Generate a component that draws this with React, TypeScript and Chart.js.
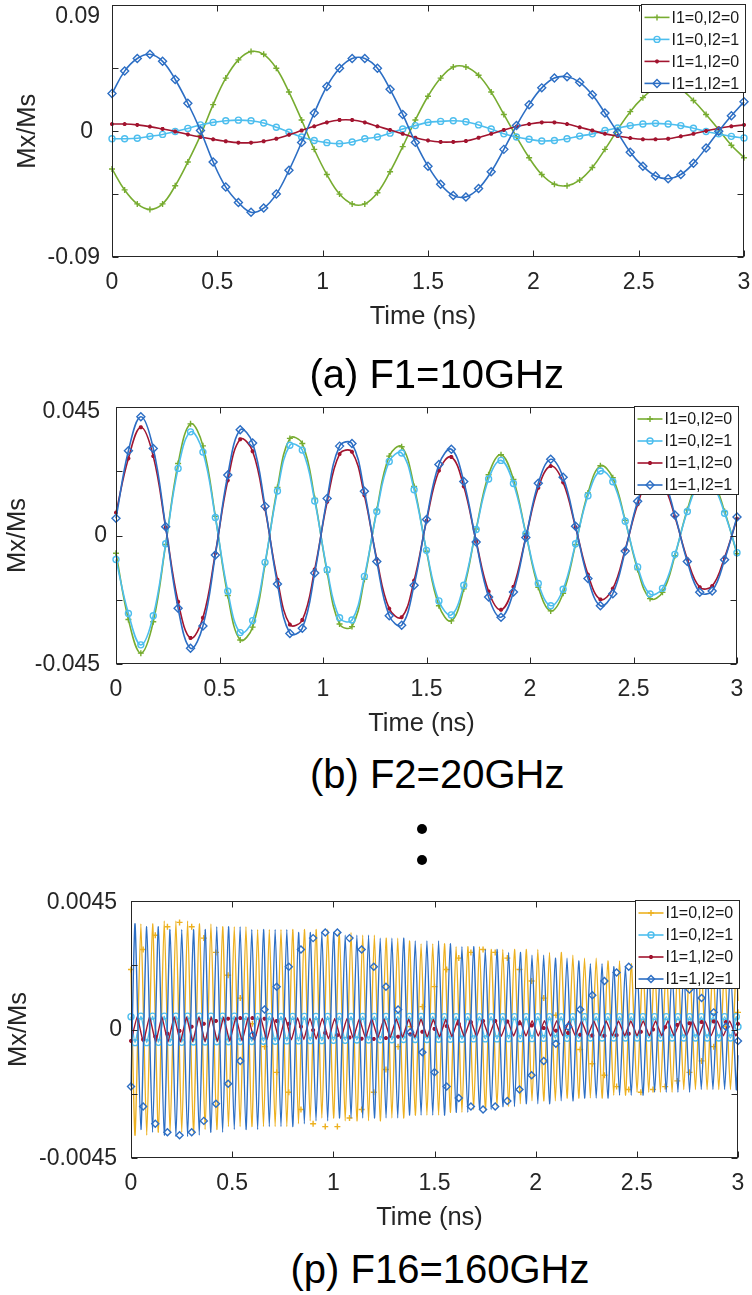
import React, { useEffect, useRef } from 'react';
import { Chart, registerables } from 'chart.js';

Chart.register(...registerables);

// ---------------- shared texts / ticks ----------------
const X_TICKS = [0, 0.5, 1, 1.5, 2, 2.5, 3];
const X_TICK_LABELS = ['0', '0.5', '1', '1.5', '2', '2.5', '3'];
const X_TITLE = 'Time (ns)';
const Y_TITLE = 'Mx/Ms';
const SERIES_NAMES = ['I1=0,I2=0', 'I1=0,I2=1', 'I1=1,I2=0', 'I1=1,I2=1'];
const CAPTIONS = ['(a) F1=10GHz', '(b) F2=20GHz', '(p) F16=160GHz'];

// sampling grid (ns) of panels (a) and (b)
const AB_STEP = 0.06;
const AB_COUNT = 51;

// ---------------- panel (a) F1 = 10 GHz ----------------
const A_Y_TICKS = [-0.09, -0.045, 0, 0.045, 0.09];
const A_Y_LABELS = ['-0.09', '', '0', '', '0.09'];
const A_I00 = [-0.027, -0.042, -0.052, -0.056, -0.052, -0.039, -0.022, -0.003, 0.019, 0.038,
  0.051, 0.057, 0.055, 0.045, 0.028, 0.008, -0.013, -0.031, -0.045, -0.052,
  -0.052, -0.044, -0.029, -0.011, 0.008, 0.025, 0.038, 0.046, 0.046, 0.040,
  0.028, 0.012, -0.004, -0.019, -0.031, -0.038, -0.039, -0.035, -0.026, -0.013,
  0.001, 0.014, 0.024, 0.031, 0.033, 0.030, 0.022, 0.012, 0.001, -0.010, -0.019];
const A_I01 = [-0.0054, -0.0054, -0.0050, -0.0037, -0.0023, -0.0002, 0.0020, 0.0045, 0.0063, 0.0075,
  0.0079, 0.0075, 0.0059, 0.0028, -0.0007, -0.0042, -0.0066, -0.0082, -0.0089, -0.0077,
  -0.0054, -0.0042, -0.0014, 0.0016, 0.0040, 0.0063, 0.0070, 0.0075, 0.0068, 0.0045,
  0.0016, -0.0019, -0.0042, -0.0058, -0.0070, -0.0066, -0.0054, -0.0035, -0.0019, 0.0005,
  0.0023, 0.0040, 0.0051, 0.0056, 0.0051, 0.0040, 0.0021, -0.0002, -0.0019, -0.0037, -0.0049];
const A_I10 = [0.0051, 0.0051, 0.0045, 0.0033, 0.0016, -0.0002, -0.0023, -0.0042, -0.0058, -0.0072,
  -0.0082, -0.0082, -0.0072, -0.0054, -0.0026, 0.0005, 0.0035, 0.0063, 0.0080, 0.0080,
  0.0063, 0.0035, 0.0009, -0.0019, -0.0047, -0.0066, -0.0077, -0.0077, -0.0070, -0.0047,
  -0.0019, 0.0009, 0.0033, 0.0051, 0.0063, 0.0063, 0.0051, 0.0028, 0.0005, -0.0019,
  -0.0035, -0.0049, -0.0058, -0.0058, -0.0054, -0.0037, -0.0019, 0.0002, 0.0021, 0.0035, 0.0045];
const A_I11 = [0.027, 0.043, 0.052, 0.055, 0.050, 0.037, 0.020, 0.0005, -0.022, -0.040,
  -0.051, -0.058, -0.055, -0.045, -0.028, -0.008, 0.013, 0.032, 0.045, 0.052,
  0.052, 0.045, 0.030, 0.012, -0.008, -0.025, -0.038, -0.046, -0.047, -0.041,
  -0.029, -0.013, 0.004, 0.019, 0.031, 0.038, 0.039, 0.035, 0.026, 0.013,
  -0.001, -0.015, -0.025, -0.032, -0.034, -0.031, -0.023, -0.012, 0.000, 0.011, 0.021];

// ---------------- panel (b) F2 = 20 GHz ----------------
const B_Y_TICKS = [-0.045, -0.0225, 0, 0.0225, 0.045];
const B_Y_LABELS = ['-0.045', '', '0', '', '0.045'];
const B_I00 = [-0.0062, -0.0294, -0.0412, -0.0302, -0.0031, 0.0252, 0.0391, 0.0314, 0.0067, -0.0210,
  -0.0366, -0.0321, -0.0101, 0.0168, 0.0340, 0.0322, 0.0130, -0.0129, -0.0310, -0.0319,
  -0.0153, 0.0090, 0.0278, 0.0311, 0.0172, -0.0055, -0.0246, -0.0299, -0.0187, 0.0023,
  0.0213, 0.0283, 0.0196, 0.0007, -0.0181, -0.0264, -0.0202, -0.0032, 0.0149, 0.0244,
  0.0202, 0.0053, -0.0119, -0.0221, -0.0199, -0.0071, 0.0090, 0.0197, 0.0192, 0.0084, -0.0064];
const B_I01 = [-0.0084, -0.0273, -0.0383, -0.0281, -0.0029, 0.0235, 0.0363, 0.0292, 0.0063, -0.0195,
  -0.0340, -0.0298, -0.0094, 0.0156, 0.0316, 0.0299, 0.0121, -0.0120, -0.0288, -0.0296,
  -0.0143, 0.0084, 0.0259, 0.0289, 0.0160, -0.0052, -0.0229, -0.0278, -0.0174, 0.0021,
  0.0198, 0.0263, 0.0182, 0.0006, -0.0168, -0.0246, -0.0188, -0.0029, 0.0139, 0.0226,
  0.0188, 0.0050, -0.0110, -0.0205, -0.0185, -0.0066, 0.0084, 0.0183, 0.0178, 0.0078, -0.0060];
const B_I10 = [0.0080, 0.0270, 0.0379, 0.0278, 0.0028, -0.0232, -0.0359, -0.0288, -0.0062, 0.0193,
  0.0337, 0.0295, 0.0093, -0.0155, -0.0312, -0.0296, -0.0119, 0.0118, 0.0285, 0.0293,
  0.0141, -0.0083, -0.0256, -0.0286, -0.0158, 0.0051, 0.0227, 0.0275, 0.0172, -0.0021,
  -0.0196, -0.0260, -0.0180, -0.0006, 0.0167, 0.0243, 0.0186, 0.0029, -0.0137, -0.0224,
  -0.0186, -0.0049, 0.0109, 0.0203, 0.0183, 0.0066, -0.0083, -0.0181, -0.0177, -0.0077, 0.0059];
const B_I11 = [0.0060, 0.0297, 0.0416, 0.0305, 0.0031, -0.0255, -0.0395, -0.0317, -0.0068, 0.0212,
  0.0370, 0.0324, 0.0102, -0.0170, -0.0343, -0.0325, -0.0131, 0.0130, 0.0313, 0.0322,
  0.0155, -0.0091, -0.0281, -0.0314, -0.0174, 0.0056, 0.0249, 0.0302, 0.0189, -0.0023,
  -0.0215, -0.0286, -0.0198, -0.0007, 0.0183, 0.0267, 0.0204, 0.0032, -0.0151, -0.0246,
  -0.0204, -0.0054, 0.0120, 0.0223, 0.0201, 0.0072, -0.0091, -0.0199, -0.0194, -0.0085, 0.0065];

// ---------------- panel (p) F16 = 160 GHz ----------------
const P_Y_TICKS = [-0.0045, -0.00225, 0, 0.00225, 0.0045];
const P_Y_LABELS = ['-0.0045', '', '0', '', '0.0045'];
// turning points of the fast oscillation: first at 0 ns, then every half period, last at 3 ns
const P_FIRST_TURN = 0.02;
const P_HALF_PERIOD = 0.02885;
const P_TURNS = 104;
const P_RED_HALF_PERIOD = 0.0305;
const P_RED_TURNS = 99;

const P_I00_LINE = [0.0021,
  -0.0037, 0.0037, -0.0037, 0.0037, -0.0036, 0.0038, -0.0036, 0.0038, -0.0036, 0.0038,
  -0.0036, 0.0037, -0.0035, 0.0037, -0.0035, 0.0036, -0.0034, 0.0036, -0.0034, 0.0036,
  -0.0034, 0.0035, -0.0034, 0.0035, -0.0034, 0.0035, -0.0034, 0.0035, -0.0033, 0.0035,
  -0.0032, 0.0035, -0.0031, 0.0035, -0.0031, 0.0034, -0.0032, 0.0034, -0.0032, 0.0033,
  -0.0032, 0.0033, -0.0032, 0.0032, -0.0031, 0.0032, -0.0031, 0.0031, -0.0030, 0.0030,
  -0.0030, 0.0030, -0.0030, 0.0030, -0.0029, 0.0029, -0.0029, 0.0029, -0.0028, 0.0029,
  -0.0028, 0.0028, -0.0027, 0.0028, -0.0027, 0.0028, -0.0026, 0.0028, -0.0025, 0.0028,
  -0.0025, 0.0027, -0.0025, 0.0027, -0.0024, 0.0026, -0.0024, 0.0025, -0.0024, 0.0025,
  -0.0024, 0.0024, -0.0023, 0.0024, -0.0023, 0.0023, -0.0022, 0.0023, -0.0022, 0.0023,
  -0.0022, 0.0023, -0.0022, 0.0023, -0.0021, 0.0023, -0.0021, 0.0023, -0.0021, 0.0023,
  -0.0021, 0.0023, -0.0021, 0.0023,
  0.0010];
const P_I01_LINE = [0.00045,
  -0.00046, 0.00047, -0.00046, 0.00047, -0.00045, 0.00047, -0.00045, 0.00047, -0.00045, 0.00047,
  -0.00044, 0.00047, -0.00044, 0.00047, -0.00043, 0.00047, -0.00043, 0.00047, -0.00042, 0.00046,
  -0.00042, 0.00046, -0.00041, 0.00046, -0.00041, 0.00046, -0.00040, 0.00046, -0.00040, 0.00046,
  -0.00039, 0.00046, -0.00039, 0.00046, -0.00038, 0.00046, -0.00038, 0.00046, -0.00037, 0.00046,
  -0.00037, 0.00046, -0.00036, 0.00046, -0.00036, 0.00046, -0.00035, 0.00046, -0.00035, 0.00046,
  -0.00035, 0.00046, -0.00034, 0.00045, -0.00034, 0.00045, -0.00034, 0.00045, -0.00033, 0.00045,
  -0.00033, 0.00045, -0.00033, 0.00045, -0.00032, 0.00045, -0.00032, 0.00045, -0.00032, 0.00045,
  -0.00031, 0.00045, -0.00031, 0.00045, -0.00031, 0.00045, -0.00031, 0.00045, -0.00030, 0.00045,
  -0.00030, 0.00045, -0.00030, 0.00045, -0.00030, 0.00045, -0.00030, 0.00045, -0.00030, 0.00045,
  -0.00030, 0.00045, -0.00030, 0.00045, -0.00030, 0.00045, -0.00030, 0.00045, -0.00030, 0.00045,
  -0.00030, 0.00045, -0.00030, 0.00045,
  0.0001];
const P_I10_LINE = [
  -0.00042, 0.00045, -0.00045, 0.00045, -0.00045, 0.00045, -0.00044, 0.00045, -0.00044, 0.00044,
  -0.00043, 0.00044, -0.00043, 0.00044, -0.00042, 0.00043, -0.00041, 0.00043, -0.00040, 0.00043,
  -0.00039, 0.00042, -0.00038, 0.00042, -0.00037, 0.00041, -0.00036, 0.00041, -0.00035, 0.00040,
  -0.00034, 0.00040, -0.00033, 0.00039, -0.00032, 0.00039, -0.00031, 0.00038, -0.00030, 0.00038,
  -0.00029, 0.00037, -0.00028, 0.00037, -0.00027, 0.00036, -0.00027, 0.00036, -0.00026, 0.00035,
  -0.00026, 0.00035, -0.00025, 0.00034, -0.00025, 0.00034, -0.00024, 0.00033, -0.00024, 0.00033,
  -0.00024, 0.00032, -0.00023, 0.00032, -0.00023, 0.00031, -0.00023, 0.00031, -0.00023, 0.00031,
  -0.00022, 0.00030, -0.00022, 0.00030, -0.00022, 0.00030, -0.00022, 0.00030, -0.00022, 0.00030,
  -0.00022, 0.00030, -0.00022, 0.00030, -0.00022, 0.00030, -0.00022, 0.00030, -0.00022, 0.00030,
  -0.00022, 0.00030, -0.00022, 0.00030, -0.00022, 0.00030, -0.00022, 0.00030, -0.00022,
  -0.0001];
const P_I11_LINE = [-0.0020,
  0.0037, -0.0035, 0.0036, -0.0036, 0.0036, -0.0037, 0.0035, -0.00375, 0.0035, -0.00375,
  0.0035, -0.0037, 0.0035, -0.0036, 0.0036, -0.0036, 0.0036, -0.0035, 0.0036, -0.0035,
  0.0035, -0.0035, 0.0035, -0.0034, 0.0035, -0.0034, 0.0035, -0.0034, 0.0034, -0.0033,
  0.0034, -0.0032, 0.0034, -0.0032, 0.0034, -0.0031, 0.0033, -0.0031, 0.0033, -0.0031,
  0.0033, -0.0031, 0.0032, -0.0031, 0.0032, -0.0031, 0.0032, -0.0030, 0.0031, -0.0030,
  0.0031, -0.0030, 0.0031, -0.0030, 0.0030, -0.0029, 0.0029, -0.0029, 0.0029, -0.0028,
  0.0028, -0.0028, 0.0028, -0.0027, 0.0027, -0.0027, 0.0027, -0.0026, 0.0026, -0.0026,
  0.0026, -0.0026, 0.0025, -0.0025, 0.0025, -0.0025, 0.0024, -0.0024, 0.0023, -0.0024,
  0.0023, -0.0024, 0.0022, -0.0023, 0.0022, -0.0023, 0.0022, -0.0023, 0.0021, -0.0022,
  0.0021, -0.0022, 0.0021, -0.0022, 0.0021, -0.0022, 0.0021, -0.0021, 0.0021, -0.0021,
  0.0021, -0.0021, 0.0021, -0.0021,
  -0.0009];
// marker samples every 0.06 ns
const P_I00_MARK = [0.0021, 0.0028, 0.0033, 0.0036, 0.00375, 0.0036, 0.0032, 0.0027, 0.0019, 0.0011,
  0.0002, -0.0006, -0.0015, -0.0022, -0.0028, -0.0033, -0.0034, -0.0034, -0.0031, -0.0028,
  -0.0022, -0.0014, -0.0006, 0.0001, 0.0008, 0.0015, 0.0021, 0.0025, 0.0027, 0.0028,
  0.0027, 0.0025, 0.0021, 0.0017, 0.0011, 0.0005, -0.0001, -0.0007, -0.0012, -0.0016,
  -0.0020, -0.0021, -0.0022, -0.0021, -0.0020, -0.0018, -0.0015, -0.0011, -0.0006, 0.0001, 0.0006];
const P_I10_MARK = [-0.0004, -0.00035, -0.00025, -0.00015, -0.00005, 0.0001, 0.0002, 0.0003, 0.00038, 0.0004,
  0.0004, 0.00038, 0.0003, 0.0002, 0.0001, -0.00002, -0.00012, -0.0002, -0.00028, -0.00032,
  -0.00033, -0.0003, -0.00025, -0.00017, -0.00008, 0.00002, 0.00012, 0.0002, 0.00026, 0.0003,
  0.0003, 0.00028, 0.00022, 0.00014, 0.00005, -0.00004, -0.00012, -0.00018, -0.00021, -0.00022,
  -0.0002, -0.00015, -0.00008, 0.0, 0.00008, 0.00016, 0.00022, 0.00026, 0.00028, 0.00026, 0.0002];
const P_I11_MARK = [-0.0020, -0.0027, -0.0033, -0.0036, -0.0037, -0.0036, -0.0032, -0.0026, -0.0019, -0.0011,
  -0.0002, 0.0007, 0.0015, 0.0022, 0.0028, 0.0032, 0.0034, 0.0034, 0.0032, 0.0028,
  0.0022, 0.0015, 0.0007, -0.0001, -0.0008, -0.0015, -0.0020, -0.0024, -0.0027, -0.0028,
  -0.0027, -0.0025, -0.0021, -0.0016, -0.0011, -0.0005, 0.0001, 0.0007, 0.0012, 0.0017,
  0.0020, 0.0022, 0.0022, 0.0021, 0.0019, 0.0017, 0.0014, 0.0011, 0.0006, 0.0001, -0.0004];

// ---------------- styles ----------------
const C_GREEN = '#77AC30';
const C_ORANGE = '#EDB120';
const C_CYAN = '#4DBEEE';
const C_RED = '#A2142F';
const C_BLUE = '#2C6EC4';
const AXIS_COLOR = '#262626';
const FONT = '"Liberation Sans", Arial, Helvetica, sans-serif';
const MARKER_WIDTH = 1.4;

const T_AB = Array.from({ length: AB_COUNT }, (_, i) => +(i * AB_STEP).toFixed(3));
const T_P = [0, ...Array.from({ length: P_TURNS }, (_, k) => P_FIRST_TURN + k * P_HALF_PERIOD), 3];
const T_P_RED = [...Array.from({ length: P_RED_TURNS }, (_, k) => k * P_RED_HALF_PERIOD), 3];

type Marker = 'cross' | 'circle' | 'star' | 'rectRot';

function drawMarker(ctx: CanvasRenderingContext2D, m: Marker, x: number, y: number, r: number, color: string) {
  ctx.save();
  ctx.strokeStyle = color;
  ctx.lineWidth = MARKER_WIDTH;
  ctx.beginPath();
  if (m === 'cross') {
    ctx.moveTo(x - r, y); ctx.lineTo(x + r, y); ctx.moveTo(x, y - r); ctx.lineTo(x, y + r);
  } else if (m === 'circle') {
    ctx.arc(x, y, r, 0, Math.PI * 2);
  } else if (m === 'star') {
    const d = r * 0.7071;
    ctx.moveTo(x - r, y); ctx.lineTo(x + r, y); ctx.moveTo(x, y - r); ctx.lineTo(x, y + r);
    ctx.moveTo(x - d, y - d); ctx.lineTo(x + d, y + d); ctx.moveTo(x - d, y + d); ctx.lineTo(x + d, y - d);
  } else {
    ctx.moveTo(x, y - r); ctx.lineTo(x + r, y); ctx.lineTo(x, y + r); ctx.lineTo(x - r, y); ctx.closePath();
  }
  ctx.stroke();
  ctx.restore();
}

interface LegendItem { label: string; color: string; marker: Marker; radius: number; }
interface PanelLayout {
  canvasTop: number; canvasH: number;
  left: number; right: number; top: number; bottom: number;
  yLabelRight: [number, number, number];
  yTopShift: number; yTitleX: number;
}

function makeAxesPlugin(yTicks: number[], yLabels: string[], lay: PanelLayout, legend: LegendItem[]) {
  return {
    id: 'matlabAxes',
    afterDatasetsDraw(chart: any) {
      const { ctx, chartArea: a } = chart;
      const xs = chart.scales.x;
      const ys = chart.scales.y;
      const L = Math.round(a.left) + 0.5;
      const R = Math.round(a.right) - 0.5;
      const T = Math.round(a.top) + 0.5;
      const B = Math.round(a.bottom) - 0.5;
      ctx.save();
      ctx.strokeStyle = AXIS_COLOR;
      ctx.lineWidth = 1;
      ctx.beginPath();
      X_TICKS.forEach((v) => {
        const px = Math.round(xs.getPixelForValue(v)) + 0.5;
        ctx.moveTo(px, B); ctx.lineTo(px, B - 6);
        ctx.moveTo(px, T); ctx.lineTo(px, T + 6);
      });
      yTicks.forEach((v) => {
        const py = Math.round(ys.getPixelForValue(v)) + 0.5;
        ctx.moveTo(L, py); ctx.lineTo(L + 6, py);
        ctx.moveTo(R, py); ctx.lineTo(R - 6, py);
      });
      ctx.stroke();
      ctx.strokeRect(L, T, R - L, B - T);

      // tick labels
      ctx.fillStyle = AXIS_COLOR;
      ctx.font = `23px ${FONT}`;
      ctx.textAlign = 'center';
      ctx.textBaseline = 'middle';
      X_TICKS.forEach((v, i) => ctx.fillText(X_TICK_LABELS[i], xs.getPixelForValue(v), a.bottom + 26));
      ctx.textAlign = 'right';
      yTicks.forEach((v, i) => {
        const s = yLabels[i];
        if (!s) return;
        const py = Math.max(ys.getPixelForValue(v), a.top + lay.yTopShift);
        const rx = v < 0 ? lay.yLabelRight[0] : v === 0 ? lay.yLabelRight[1] : lay.yLabelRight[2];
        ctx.fillText(s, rx, py + (v < 0 ? 1 : 0));
      });

      // axis titles
      ctx.font = `25.5px ${FONT}`;
      ctx.textAlign = 'center';
      ctx.fillText(X_TITLE, (a.left + a.right) / 2 - 5, a.bottom + 60);
      ctx.save();
      ctx.translate(lay.yTitleX, (a.top + a.bottom) / 2);
      ctx.rotate(-Math.PI / 2);
      ctx.fillText(Y_TITLE, 0, 0);
      ctx.restore();

      // legend
      const lx = Math.round(a.right - 103) + 0.5;
      const ly = Math.round(a.top - 1) + 0.5;
      const lw = 104;
      const lh = 88;
      ctx.fillStyle = '#ffffff';
      ctx.fillRect(lx, ly, lw, lh);
      ctx.strokeStyle = AXIS_COLOR;
      ctx.lineWidth = 1;
      ctx.strokeRect(lx, ly, lw, lh);
      legend.forEach((it, i) => {
        const y = a.top + 12 + 22 * i;
        ctx.strokeStyle = it.color;
        ctx.lineWidth = 1.6;
        ctx.beginPath();
        ctx.moveTo(lx + 3, y); ctx.lineTo(lx + 28, y);
        ctx.stroke();
        drawMarker(ctx, it.marker, lx + 15.5, y, it.radius, it.color);
        ctx.fillStyle = '#1a1a1a';
        ctx.font = `16px ${FONT}`;
        ctx.textAlign = 'left';
        ctx.fillText(it.label, lx + 30, y + 1);
      });
      ctx.restore();
    },
  };
}

function lineSeries(times: number[], values: number[], color: string, marker: Marker | null, radius: number, order: number, tension: number, width = 1.6) {
  return {
    data: values.map((y, i) => ({ x: times[i], y })),
    borderColor: color,
    borderWidth: width,
    pointStyle: marker || 'circle',
    pointRadius: marker ? radius : 0,
    pointBorderColor: color,
    pointBackgroundColor: 'rgba(0,0,0,0)',
    pointBorderWidth: MARKER_WIDTH,
    tension,
    fill: false,
    order,
    clip: 6,
  };
}

function markerSeries(times: number[], values: number[], color: string, marker: Marker, radius: number, order: number) {
  return {
    data: values.map((y, i) => ({ x: times[i], y })),
    showLine: false,
    borderColor: color,
    pointStyle: marker,
    pointRadius: radius,
    pointBorderColor: color,
    pointBackgroundColor: 'rgba(0,0,0,0)',
    pointBorderWidth: MARKER_WIDTH,
    order,
    clip: 6,
  };
}

const LAYOUT_A: PanelLayout = { canvasTop: 0, canvasH: 345, left: 112, right: 744, top: 1, bottom: 257, yLabelRight: [100, 93, 100], yTopShift: 11, yTitleX: 28 };
const LAYOUT_B: PanelLayout = { canvasTop: 395, canvasH: 345, left: 116, right: 737, top: 407, bottom: 664, yLabelRight: [100, 107, 100], yTopShift: 5, yTitleX: 18 };
const LAYOUT_P: PanelLayout = { canvasTop: 890, canvasH: 345, left: 131, right: 738, top: 901, bottom: 1158, yLabelRight: [117, 122, 117], yTopShift: 2, yTitleX: 18.5 };

function Panel({ lay, yTicks, yLabels, datasets, legend }: { lay: PanelLayout; yTicks: number[]; yLabels: string[]; datasets: any[]; legend: LegendItem[] }) {
  const ref = useRef<HTMLCanvasElement | null>(null);
  useEffect(() => {
    if (!ref.current) return;
    const chart = new Chart(ref.current, {
      type: 'line',
      data: { datasets },
      options: {
        responsive: false,
        maintainAspectRatio: false,
        animation: false,
        devicePixelRatio: 1,
        events: [],
        layout: {
          padding: {
            left: lay.left,
            right: 752 - lay.right,
            top: lay.top - lay.canvasTop,
            bottom: lay.canvasTop + lay.canvasH - lay.bottom,
          },
        },
        scales: {
          x: { type: 'linear', min: X_TICKS[0], max: X_TICKS[X_TICKS.length - 1], display: false },
          y: { type: 'linear', min: yTicks[0], max: yTicks[yTicks.length - 1], display: false },
        },
        plugins: { legend: { display: false }, tooltip: { enabled: false } },
      } as any,
      plugins: [makeAxesPlugin(yTicks, yLabels, lay, legend)],
    });
    return () => chart.destroy();
  }, []);
  return (
    <canvas
      ref={ref}
      width={752}
      height={lay.canvasH}
      style={{ position: 'absolute', left: 0, top: lay.canvasTop, width: 752, height: lay.canvasH }}
    />
  );
}

const captionStyle = (cx: number, top: number): React.CSSProperties => ({
  position: 'absolute', left: cx - 200, top, width: 400, textAlign: 'center',
  fontFamily: FONT, fontSize: 40, lineHeight: '40px', color: '#000', whiteSpace: 'nowrap',
});

export default function App() {
  const legendA: LegendItem[] = [
    { label: SERIES_NAMES[0], color: C_GREEN, marker: 'cross', radius: 3 },
    { label: SERIES_NAMES[1], color: C_CYAN, marker: 'circle', radius: 3 },
    { label: SERIES_NAMES[2], color: C_RED, marker: 'star', radius: 2 },
    { label: SERIES_NAMES[3], color: C_BLUE, marker: 'rectRot', radius: 4 },
  ];
  const legendP: LegendItem[] = [
    { label: SERIES_NAMES[0], color: C_ORANGE, marker: 'cross', radius: 3 },
    { label: SERIES_NAMES[1], color: C_CYAN, marker: 'circle', radius: 3 },
    { label: SERIES_NAMES[2], color: C_RED, marker: 'star', radius: 2 },
    { label: SERIES_NAMES[3], color: C_BLUE, marker: 'rectRot', radius: 3.5 },
  ];
  const dsA = [
    lineSeries(T_AB, A_I00, C_GREEN, 'cross', 3, 4, 0.4),
    lineSeries(T_AB, A_I01, C_CYAN, 'circle', 3, 3, 0.4),
    lineSeries(T_AB, A_I10, C_RED, 'star', 2, 2, 0.4),
    lineSeries(T_AB, A_I11, C_BLUE, 'rectRot', 4, 1, 0.4),
  ];
  const dsB = [
    lineSeries(T_AB, B_I00, C_GREEN, 'cross', 3, 4, 0.4),
    lineSeries(T_AB, B_I01, C_CYAN, 'circle', 3, 3, 0.4),
    lineSeries(T_AB, B_I10, C_RED, 'star', 2, 2, 0.4),
    lineSeries(T_AB, B_I11, C_BLUE, 'rectRot', 4, 1, 0.4),
  ];
  const dsP = [
    lineSeries(T_P, P_I00_LINE, C_ORANGE, null, 0, 9, 0.2, 1.4),
    markerSeries(T_AB, P_I00_MARK, C_ORANGE, 'cross', 3, 8),
    lineSeries(T_P, P_I01_LINE, C_CYAN, 'circle', 3, 7, 0.2, 1.4),
    lineSeries(T_P_RED, P_I10_LINE, C_RED, null, 0, 6, 0.1, 1.4),
    markerSeries(T_AB, P_I10_MARK, C_RED, 'star', 2, 5),
    lineSeries(T_P, P_I11_LINE, C_BLUE, null, 0, 4, 0.2, 1.4),
    markerSeries(T_AB, P_I11_MARK, C_BLUE, 'rectRot', 3.5, 3),
  ];
  return (
    <div style={{ position: 'absolute', left: 0, top: 0, width: 752, height: 1295, background: '#fff', overflow: 'hidden' }}>
      <Panel lay={LAYOUT_A} yTicks={A_Y_TICKS} yLabels={A_Y_LABELS} datasets={dsA} legend={legendA} />
      <Panel lay={LAYOUT_B} yTicks={B_Y_TICKS} yLabels={B_Y_LABELS} datasets={dsB} legend={legendA} />
      <Panel lay={LAYOUT_P} yTicks={P_Y_TICKS} yLabels={P_Y_LABELS} datasets={dsP} legend={legendP} />
      <div style={captionStyle(436.7, 354.4)}>{CAPTIONS[0]}</div>
      <div style={captionStyle(437.2, 754.4)}>{CAPTIONS[1]}</div>
      <div style={captionStyle(440, 1249.4)}>{CAPTIONS[2]}</div>
      <div style={{ position: 'absolute', left: 417, top: 824, width: 10, height: 10, borderRadius: 5, background: '#000' }} />
      <div style={{ position: 'absolute', left: 417, top: 855, width: 10, height: 10, borderRadius: 5, background: '#000' }} />
    </div>
  );
}
